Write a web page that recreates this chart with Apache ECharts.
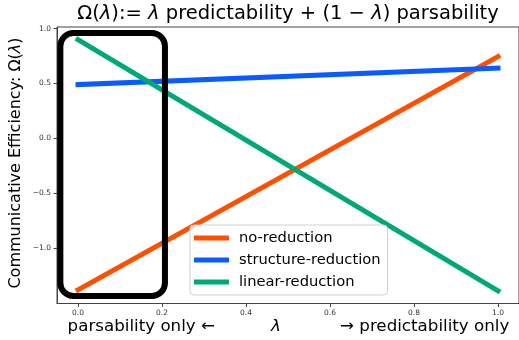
<!DOCTYPE html>
<html>
<head>
<meta charset="utf-8">
<script src="https://cdn.jsdelivr.net/npm/echarts@6/dist/echarts.min.js"></script>
<style>
html,body{margin:0;padding:0;background:#fff;}
#chart{width:519px;height:340px;}
</style>
</head>
<body>
<div id="chart"></div>
<script>
// ---- data ----
var lambdas = [0, 1];
var noReduction = [-1.38, 0.745];
var structureReduction = [0.49, 0.64];
var linearReduction = [0.90, -1.39];
var seriesNames = ['no-reduction', 'structure-reduction', 'linear-reduction'];
var xTicks = [0.0, 0.2, 0.4, 0.6, 0.8, 1.0];
var yTicks = [-1.0, -0.5, 0.0, 0.5, 1.0];
// highlight box corners (lambda, Omega): [x0, y0, x1, y1]
var highlightBox = [[-0.042, 0.96, 0.207, -1.436]];

var colors = ['#ff4f00', '#0a5cff', '#00a878'];
var FONT = 'DejaVu Sans';

function pairs(xs, ys) { return xs.map(function (x, i) { return [x, ys[i]]; }); }
function fmt(v) { return v.toFixed(1).replace('-', '\u2212'); }

var chart = echarts.init(document.getElementById('chart'), null, {renderer: 'canvas'});

var lineSeries = [noReduction, structureReduction, linearReduction].map(function (vals, i) {
  return {
    name: seriesNames[i],
    type: 'line',
    data: pairs(lambdas, vals),
    symbol: 'none',
    lineStyle: {color: colors[i], width: 5, cap: 'square'},
    itemStyle: {color: colors[i]},
    z: 2 + i * 0.01,
    silent: true
  };
});

var TS = 19.5;
var italicL = {fontFamily: FONT, fontStyle: 'italic', fontSize: TS, fill: '#000'};
var normal = {fontFamily: FONT, fontSize: TS, fill: '#000'};

var option = {
  animation: false,
  backgroundColor: '#fff',
  grid: {left: 57, top: 27, right: -4, bottom: 36.5, show: true, borderColor: '#444', borderWidth: 1, backgroundColor: 'transparent'},
  xAxis: {
    type: 'value', min: -0.05, max: 1.05,
    axisLine: {show: true, onZero: false, lineStyle: {color: '#444', width: 1}},
    splitLine: {show: false},
    axisTick: {show: true, length: 3.5, lineStyle: {color: '#444'}, customValues: xTicks},
    axisLabel: {customValues: xTicks, formatter: fmt, fontFamily: FONT, fontSize: 7.5, color: '#333', margin: 6}
  },
  yAxis: {
    type: 'value', min: -1.5045, max: 1.0145,
    axisLine: {show: true, onZero: false, lineStyle: {color: '#444', width: 1}},
    splitLine: {show: false},
    axisTick: {show: true, length: 3.5, lineStyle: {color: '#444'}, customValues: yTicks},
    axisLabel: {customValues: yTicks, formatter: fmt, fontFamily: FONT, fontSize: 7.5, color: '#333', margin: 6}
  },
  legend: {
    data: seriesNames,
    orient: 'vertical',
    left: 190, top: 225,
    icon: 'rect',
    itemWidth: 35, itemHeight: 5,
    itemGap: 6,
    padding: [5, 7, 5, 4],
    borderColor: '#d0d0d0', borderWidth: 1, borderRadius: 4,
    backgroundColor: 'rgba(255,255,255,0.8)',
    textStyle: {fontFamily: FONT, fontSize: 14.7, color: '#000', lineHeight: 16, padding: [0, 0, 0, 5]},
    selectedMode: false
  },
  series: lineSeries.concat([{
    type: 'custom',
    name: 'box',
    data: highlightBox,
    silent: true,
    z: 5,
    renderItem: function (params, api) {
      var p0 = api.coord([api.value(0), api.value(1)]);
      var p1 = api.coord([api.value(2), api.value(3)]);
      return {
        type: 'rect',
        shape: {x: p0[0], y: p0[1], width: p1[0] - p0[0], height: p1[1] - p0[1], r: 13},
        style: {fill: null, stroke: '#000', lineWidth: 6}
      };
    }
  }]),
  graphic: [
    {
      type: 'text', x: 288, y: 14,
      style: {
        text: '{n|\u03a9(}{i|\u03bb}{n|):= }{i|\u03bb}{n| predictability + (1 \u2212 }{i|\u03bb}{n|) parsability}',
        align: 'center', verticalAlign: 'middle',
        rich: {n: normal, i: italicL}
      }
    },
    {
      type: 'text', x: 16, y: 163, rotation: Math.PI / 2,
      style: {
        text: '{n|Communicative Efficiency: \u03a9(}{i|\u03bb}{n|)}',
        align: 'center', verticalAlign: 'middle',
        rich: {
          n: {fontFamily: FONT, fontSize: 16, fill: '#000'},
          i: {fontFamily: FONT, fontSize: 16, fontStyle: 'italic', fill: '#000'}
        }
      }
    },
    {
      type: 'text', x: 215, y: 327,
      style: {text: 'parsability only \u2190', font: '16.7px "DejaVu Sans"', fill: '#000', align: 'right', verticalAlign: 'middle'}
    },
    {
      type: 'text', x: 276, y: 327,
      style: {text: '\u03bb', font: 'italic 16.7px "DejaVu Sans"', fill: '#000', align: 'center', verticalAlign: 'middle'}
    },
    {
      type: 'text', x: 340, y: 327,
      style: {text: '\u2192 predictability only', font: '16.7px "DejaVu Sans"', fill: '#000', align: 'left', verticalAlign: 'middle'}
    }
  ]
};
chart.setOption(option);
</script>
</body>
</html>
